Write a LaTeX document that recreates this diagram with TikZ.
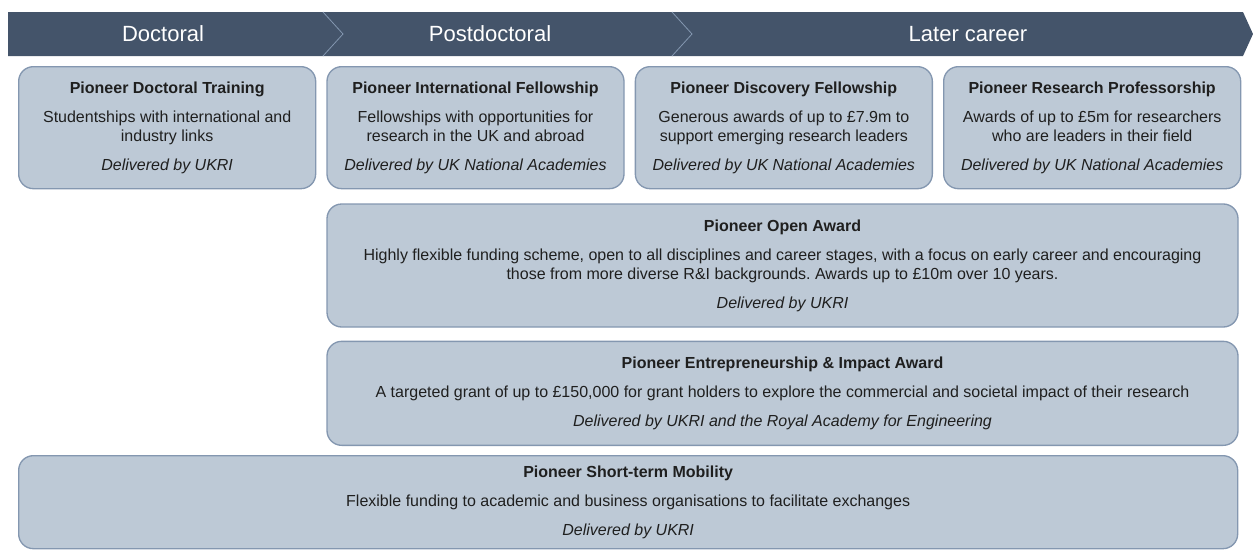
\documentclass[tikz,border=0pt]{standalone}
\usepackage{fontspec}
\setmainfont{Liberation Sans}
\usepackage{xcolor}
\usetikzlibrary{positioning}
\frenchspacing

\definecolor{bannerblue}{HTML}{44546A}
\definecolor{boxfill}{HTML}{BDC9D6}
\definecolor{boxline}{HTML}{8497B0}
\definecolor{inktext}{HTML}{1F1F1F}

\tikzset{
  phase/.style={text=white, font=\fontsize{16.5pt}{18pt}\selectfont, inner sep=0pt},
  scheme/.style={draw=boxline, line width=1pt, fill=boxfill, rounded corners=11pt,
    align=center, inner sep=0pt, text=inktext,
    font=\fontsize{12pt}{14.25pt}\selectfont},
  divider/.style={draw=boxline, line width=0.6pt}
}

\newcommand{\scheme}[3]{\textbf{#1}\\[7.5pt]#2\\[7.5pt]\textit{#3}}

\begin{document}
\begin{tikzpicture}[x=0.75pt, y=-0.75pt, node distance=7.5pt]
  \useasboundingbox (0,0) rectangle (1253,553);

  % career stage banner
  \fill[bannerblue] (8,12) -- (1243,12) -- (1253,34) -- (1243,56) -- (8,56) -- cycle;
  \draw[divider] (323,12) -- (343,34) -- (323,56);
  \draw[divider] (672,12) -- (692,34) -- (672,56);
  \node[phase] (DOC) at (163,34) {Doctoral};
  \node[phase] (POST) at (490,34) {Postdoctoral};
  \node[phase] (LATE) at (968,34) {Later career};

  % first row of schemes
  \node[scheme, anchor=north west, minimum width=222.75pt, minimum height=91.5pt] (DT) at (18,66)
    {\scheme{Pioneer Doctoral Training}{Studentships with international and\\industry links}{Delivered by UKRI}};
  \node[scheme, right=of DT, minimum width=222.75pt, minimum height=91.5pt] (IF)
    {\scheme{Pioneer International Fellowship}{Fellowships with opportunities for\\research in the UK and abroad}{Delivered by UK National Academies}};
  \node[scheme, right=of IF, minimum width=222.75pt, minimum height=91.5pt] (DF)
    {\scheme{Pioneer Discovery Fellowship}{Generous awards of up to £7.9m to\\support emerging research leaders}{Delivered by UK National Academies}};
  \node[scheme, right=of DF, minimum width=222.75pt, minimum height=91.5pt] (RP)
    {\scheme{Pioneer Research Professorship}{Awards of up to £5m for researchers\\who are leaders in their field}{Delivered by UK National Academies}};

  % wide schemes
  \node[scheme, below=10.5pt of IF.south west, anchor=north west, minimum width=683.25pt, minimum height=92.25pt] (OA)
    {\scheme{Pioneer Open Award}{Highly flexible funding scheme, open to all disciplines and career stages, with a focus on early career and encouraging\\those from more diverse R\&I backgrounds. Awards up to £10m over 10 years.}{Delivered by UKRI}};
  \node[scheme, below=9.75pt of OA.south west, anchor=north west, minimum width=683.25pt, minimum height=78pt] (EI)
    {\scheme{Pioneer Entrepreneurship \& Impact Award}{A targeted grant of up to £150,000 for grant holders to explore the commercial and societal impact of their research}{Delivered by UKRI and the Royal Academy for Engineering}};
  \node[scheme, anchor=north west, minimum width=914.25pt, minimum height=69.75pt] (SM) at (18,455)
    {\scheme{Pioneer Short-term Mobility}{Flexible funding to academic and business organisations to facilitate exchanges}{Delivered by UKRI}};
\end{tikzpicture}
\end{document}
